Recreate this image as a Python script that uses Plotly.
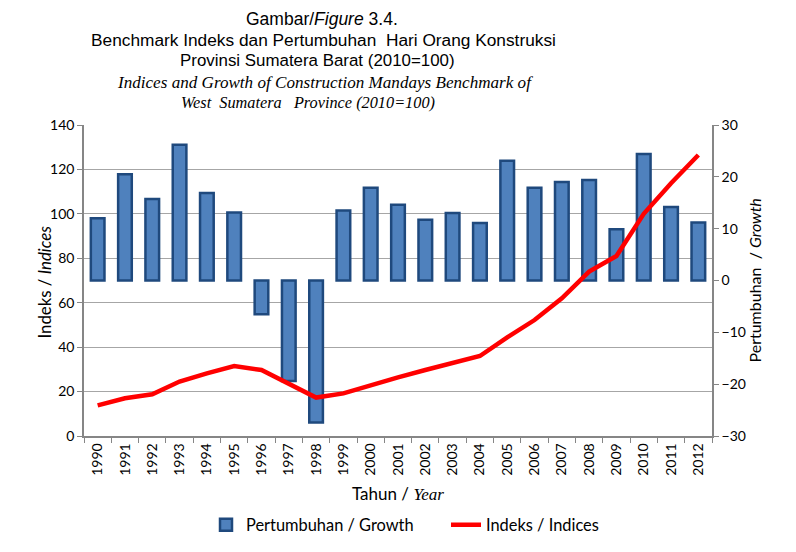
import plotly.graph_objects as go

years = [str(y) for y in range(1990, 2013)]
growth = [12.0, 20.5, 15.7, 26.2, 16.9, 13.1, -6.5, -19.4, -27.4, 13.5, 17.9, 14.6,
          11.7, 13.0, 11.1, 23.1, 17.9, 19.0, 19.4, 9.9, 24.4, 14.2, 11.2]
index_vals = [13.8, 17.0, 18.8, 24.5, 28.2, 31.5, 29.7, 23.7, 17.3, 19.2, 23.0, 26.4,
              29.7, 32.7, 36.0, 44.4, 52.2, 62.0, 74.0, 81.0, 100.0, 113.8, 126.5]

OFF = 8  # page body margin
W, H = 796 - OFF, 552 - OFF
L, R, T, B = 84, 712, 125, 436  # plot area in page pixels

def px(x):
    return (x - L) / (R - L)

def py(y):
    return (B - y) / (B - T)

fig = go.Figure()
fig.add_trace(go.Bar(
    x=years, y=growth, name="Pertumbuhan / Growth", yaxis="y", width=0.5,
    marker=dict(color="#4f81bd", line=dict(color="#1f497d", width=2.5)),
))
fig.add_trace(go.Scatter(
    x=years, y=index_vals, name="Indeks / Indices", yaxis="y2", mode="lines",
    line=dict(color="#ff0000", width=4.5),
))

axis_col = "#868686"
tickfont = dict(family="Lato", size=14, color="black")

fig.update_layout(
    width=W, height=H,
    margin=dict(l=L - OFF, r=W - (R - OFF), t=T - OFF, b=H - (B - OFF), autoexpand=False),
    plot_bgcolor="white", paper_bgcolor="white",
    showlegend=True,
    legend=dict(orientation="h", x=px(206), xanchor="left", y=py(525), yanchor="middle",
                font=dict(family="Lato", size=16.4, color="black"), traceorder="normal",
                itemwidth=30, entrywidth=195, bgcolor="rgba(0,0,0,0)"),
    xaxis=dict(type="category", tickangle=-90, tickfont=tickfont, showline=True,
               linecolor=axis_col, linewidth=1.5, ticks="outside", tickson="boundaries",
               ticklen=5, tickcolor=axis_col, showgrid=False, range=[-0.5, 22.5]),
    yaxis=dict(side="right", range=[-30, 30], tickvals=[-30, -20, -10, 0, 10, 20, 30],
               tickfont=tickfont, showline=True, linecolor=axis_col, linewidth=1.5,
               ticks="outside", ticklen=5, tickcolor=axis_col, showgrid=False,
               zeroline=False),
    yaxis2=dict(side="left", overlaying="y", range=[0, 140],
                tickvals=[0, 20, 40, 60, 80, 100, 120, 140], tickfont=tickfont,
                showline=True, linecolor=axis_col, linewidth=1.5, ticks="outside",
                ticklen=5, tickcolor=axis_col, showgrid=True, gridcolor="#a6a6a6",
                gridwidth=1, zeroline=False),
    bargap=0.5,
)

serif = "Liberation Serif"
sans = "Liberation Sans"
anns = [
    ("Gambar/<i>Figure</i> 3.4.", 322, 19, sans, 17.5),
    ("Benchmark Indeks dan Pertumbuhan  Hari Orang Konstruksi", 323, 40, sans, 17.3),
    ("Provinsi Sumatera Barat (2010=100)", 317, 60, sans, 16.9),
    ("<i>Indices and Growth of Construction Mandays Benchmark of</i>", 325, 82, serif, 17.1),
    ("<i>West  Sumatera   Province (2010=100)</i>", 308, 102, serif, 16.3),
]
for text, x, y, fam, sz in anns:
    fig.add_annotation(text=text, x=px(x), y=py(y), xref="paper", yref="paper",
                       xanchor="center", yanchor="middle", showarrow=False,
                       font=dict(family=fam, size=sz, color="black"))

fig.add_annotation(text="Indeks / <i>Indices</i>", x=px(31), y=py(282), xref="paper",
                   yref="paper", textangle=-90, showarrow=False,
                   font=dict(family="Lato", size=16.8, color="black"))
fig.add_annotation(text="Pertumbuhan  / <i>Growth</i>", x=px(765), y=py(281), xref="paper",
                   yref="paper", textangle=-90, showarrow=False,
                   font=dict(family="Lato", size=16, color="black"))
fig.add_annotation(text="Tahun / <span style='font-family:Liberation Serif'><i>Year</i></span>",
                   x=px(398), y=py(493), xref="paper", yref="paper", showarrow=False,
                   yanchor="middle", font=dict(family="Lato", size=17, color="black"))

fig.add_shape(type="line", xref="paper", yref="paper",
              x0=px(794), x1=px(794), y0=py(552), y1=py(8),
              line=dict(color="#8c8c8c", width=1.5))

fig.write_html("out.html")
